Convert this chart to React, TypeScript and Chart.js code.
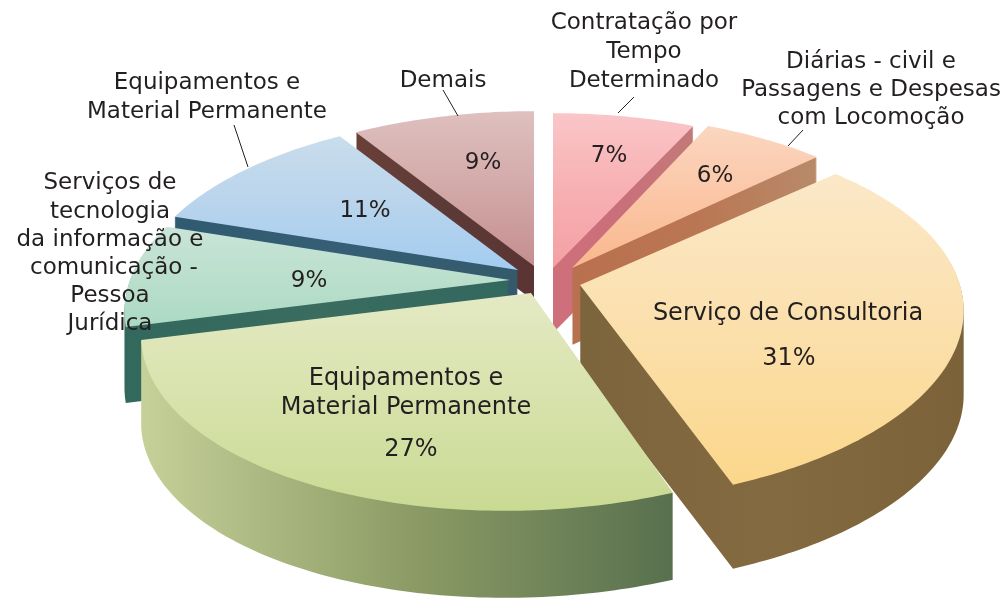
import React, { useEffect, useRef } from "react";
import { Chart, registerables } from "chart.js";

Chart.register(...registerables);

// ---- data ----
const categories = [
  "Contratação por Tempo Determinado",
  "Diárias - civil e Passagens e Despesas com Locomoção",
  "Serviço de Consultoria",
  "Equipamentos e Material Permanente",
  "Serviços de tecnologia da informação e comunicação - Pessoa Jurídica",
  "Equipamentos e Material Permanente",
  "Demais",
];
const seriesValues = [7, 6, 31, 27, 9, 11, 9];

// ---- look of each slice (same order as the data) ----
const apexX = [553, 572, 580, 531, 510, 518, 534];
const apexY = [268, 268, 285, 293, 280, 270, 266];
const shear = [0, 0.03, -0.065, -0.12, 0, 0, 0];
const depth = [65, 77, 84, 87, 76, 30, 35];
const topColors = [
  ["#fac6c8", "#f7b0b2", "#f4a0a4"],
  ["#fbd6c0", "#fbc6a6", "#f9b88e"],
  ["#fbe8c8", "#fbe0ac", "#fbd78b"],
  ["#e4e9c4", "#d7e2ab", "#c9da93"],
  ["#c9e4d8", "#bbdfcd", "#abdac4"],
  ["#c9ddec", "#b9d4ec", "#a3ccf0"],
  ["#dec0bf", "#d2a9a8", "#c58e8f"],
];
const wallColors = [
  ["#cf6f7b", "#c9707a", "#c27a78"],
  ["#b9704f", "#ba7652", "#b88a6a"],
  ["#7c643c", "#846a41", "#7b6238"],
  ["#c6d099", "#8d9c66", "#58704e"],
  ["#33685d", "#3a6c5f", "#33685f"],
  ["#2f5a70", "#365f75", "#33596b"],
  ["#6a4038", "#5c3a38", "#5a3432"],
];
const paintOrder = [0, 1, 6, 5, 4, 2, 3];

const halfWidth = 380;
const halfHeight = 181;
const perspective = 0.169;

// ---- text ----
const fontFamily = '"DejaVu Sans", Verdana, sans-serif';
const textColor = "#231f20";
const outerSize = 23;
const innerSize = 24;
const textBlocks: { lines: string[]; x: number[]; y: number[]; size: number }[] = [
  { lines: ["Contratação por", "Tempo", "Determinado"], x: [644, 644, 644], y: [23, 52, 81], size: outerSize },
  { lines: ["Diárias - civil e", "Passagens e Despesas", "com Locomoção"], x: [871, 871, 871], y: [62, 90, 118], size: outerSize },
  { lines: ["Demais"], x: [443], y: [81], size: outerSize },
  { lines: ["Equipamentos e", "Material Permanente"], x: [207, 207], y: [83, 112], size: outerSize },
  {
    lines: ["Serviços de", "tecnologia", "da informação e", "comunicação -", "Pessoa", "Jurídica"],
    x: [110, 110, 110, 114, 110, 110],
    y: [183, 212, 240, 268, 296, 324],
    size: outerSize,
  },
  { lines: ["Serviço de Consultoria"], x: [788], y: [314], size: innerSize },
  { lines: ["Equipamentos e", "Material Permanente"], x: [406, 406], y: [379, 408], size: innerSize },
];
const percentLabels = seriesValues.map((v) => `${v}%`);
const percentX = [609, 715, 789, 411, 309, 365, 483];
const percentY = [156, 176, 359, 450, 281, 211, 163];
const percentSize = [outerSize, outerSize, innerSize, innerSize, outerSize, outerSize, outerSize];
const leaderLines = [
  [618, 113, 634, 97],
  [788, 146, 803, 130],
  [458, 116, 443, 90],
  [248, 167, 234, 125],
];

function project(i: number, theta: number) {
  const d = 1 + perspective * Math.cos(theta);
  const x = (halfWidth * Math.sin(theta)) / d;
  const y = (-halfHeight * Math.cos(theta)) / d;
  return { x: apexX[i] + x + shear[i] * y, y: apexY[i] + y };
}

function addWedge(path: Path2D, i: number, a0: number, a1: number, dy: number) {
  path.moveTo(apexX[i], apexY[i] + dy);
  const steps = Math.max(2, Math.ceil(((a1 - a0) * 180) / Math.PI));
  for (let s = 0; s <= steps; s++) {
    const p = project(i, a0 + ((a1 - a0) * s) / steps);
    path.lineTo(p.x, p.y + dy);
  }
  path.closePath();
}

const pie3d = {
  id: "pie3d",
  beforeDatasetsDraw(chart: any) {
    const ctx: CanvasRenderingContext2D = chart.ctx;
    const arcs = chart.getDatasetMeta(0).data;
    ctx.save();
    ctx.filter = "blur(0.6px)";
    for (const i of paintOrder) {
      const el = arcs[i];
      const a0 = el.startAngle + Math.PI / 2;
      const a1 = el.endAngle + Math.PI / 2;
      let minX = apexX[i], maxX = apexX[i], minY = apexY[i], maxY = apexY[i];
      const steps = 40;
      for (let s = 0; s <= steps; s++) {
        const p = project(i, a0 + ((a1 - a0) * s) / steps);
        minX = Math.min(minX, p.x);
        maxX = Math.max(maxX, p.x);
        minY = Math.min(minY, p.y);
        maxY = Math.max(maxY, p.y);
      }
      const wall = new Path2D();
      for (let dy = 1; dy <= depth[i]; dy++) addWedge(wall, i, a0, a1, dy);
      const wg = ctx.createLinearGradient(minX, 0, maxX, 0);
      wg.addColorStop(0, wallColors[i][0]);
      wg.addColorStop(0.5, wallColors[i][1]);
      wg.addColorStop(1, wallColors[i][2]);
      ctx.fillStyle = wg;
      ctx.fill(wall);

      const top = new Path2D();
      addWedge(top, i, a0, a1, 0);
      const tg = ctx.createLinearGradient(0, minY, 0, maxY);
      tg.addColorStop(0, topColors[i][0]);
      tg.addColorStop(0.5, topColors[i][1]);
      tg.addColorStop(1, topColors[i][2]);
      ctx.fillStyle = tg;
      ctx.fill(top);
    }
    ctx.restore();
    return false;
  },
  afterDraw(chart: any) {
    const ctx: CanvasRenderingContext2D = chart.ctx;
    ctx.save();
    ctx.strokeStyle = textColor;
    ctx.lineWidth = 1;
    for (const [x0, y0, x1, y1] of leaderLines) {
      ctx.beginPath();
      ctx.moveTo(x0, y0);
      ctx.lineTo(x1, y1);
      ctx.stroke();
    }
    ctx.fillStyle = textColor;
    ctx.textAlign = "center";
    ctx.textBaseline = "middle";
    for (const b of textBlocks) {
      ctx.font = `${b.size}px ${fontFamily}`;
      b.lines.forEach((line, n) => ctx.fillText(line, b.x[n], b.y[n]));
    }
    percentLabels.forEach((t, i) => {
      ctx.font = `${percentSize[i]}px ${fontFamily}`;
      ctx.fillText(t, percentX[i], percentY[i]);
    });
    ctx.restore();
  },
};

export default function App() {
  const ref = useRef<HTMLCanvasElement>(null);
  useEffect(() => {
    if (!ref.current) return;
    const chart = new Chart(ref.current, {
      type: "pie",
      data: {
        labels: categories,
        datasets: [{ data: seriesValues, backgroundColor: topColors.map((c) => c[1]), borderWidth: 0 }],
      },
      options: {
        responsive: false,
        animation: false,
        plugins: { legend: { display: false }, tooltip: { enabled: false } },
      },
      plugins: [pie3d],
    } as any);
    return () => chart.destroy();
  }, []);
  return (
    <div style={{ position: "fixed", left: 0, top: 0, width: 1005, height: 598, background: "#fff" }}>
      <canvas ref={ref} width={1005} height={598} style={{ display: "block" }} />
    </div>
  );
}
